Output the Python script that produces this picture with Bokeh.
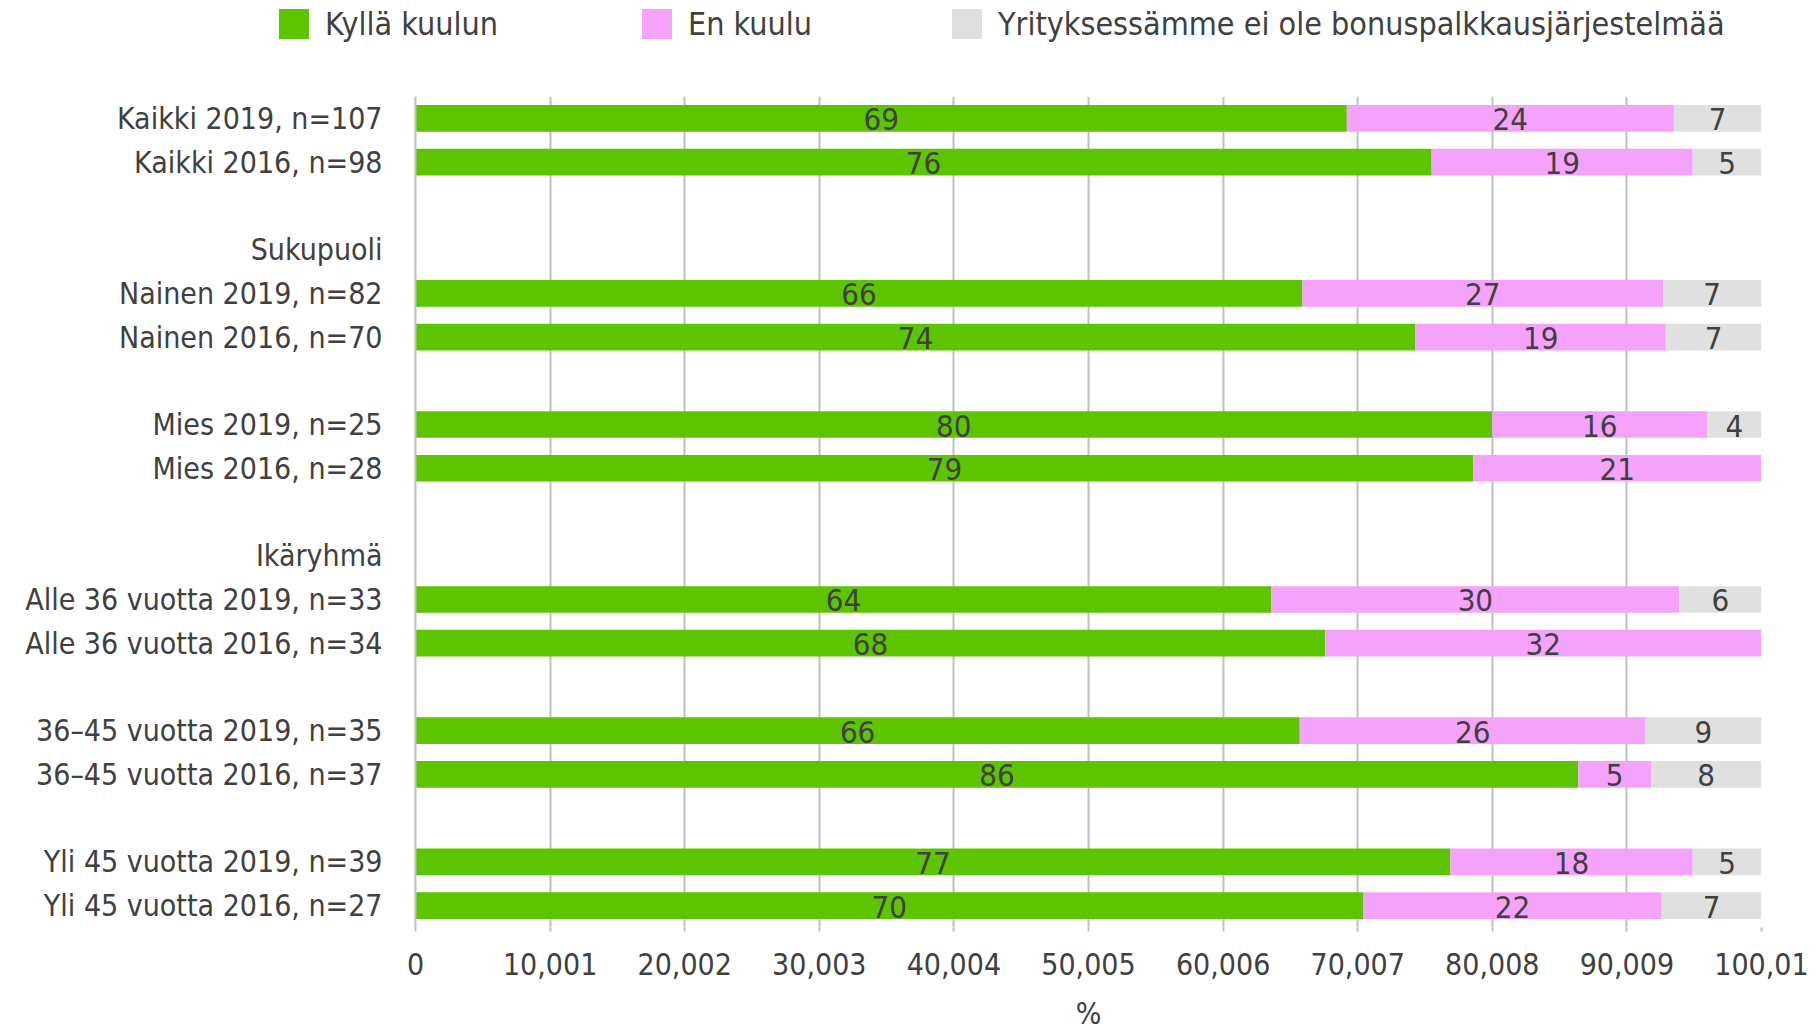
import math
from bokeh.plotting import figure
from bokeh.layouts import column
from bokeh.models import ColumnDataSource, FixedTicker, Range1d, Div
from bokeh.core.properties import value
from bokeh.embed import file_html
from bokeh.resources import INLINE

# ---- data ----
rows = [
    "Kaikki 2019, n=107", "Kaikki 2016, n=98", "",
    "Sukupuoli", "Nainen 2019, n=82", "Nainen 2016, n=70", "",
    "Mies 2019, n=25", "Mies 2016, n=28", "",
    "Ikäryhmä", "Alle 36 vuotta 2019, n=33", "Alle 36 vuotta 2016, n=34", "",
    "36–45 vuotta 2019, n=35", "36–45 vuotta 2016, n=37", "",
    "Yli 45 vuotta 2019, n=39", "Yli 45 vuotta 2016, n=27",
]
kylla = [69.2, 75.5, None, None, 65.9, 74.3, None, 80.0, 78.6, None, None,
         63.6, 67.6, None, 65.7, 86.4, None, 76.9, 70.4]
en_kuulu = [24.3, 19.4, None, None, 26.8, 18.6, None, 16.0, 21.4, None, None,
            30.3, 32.4, None, 25.7, 5.4, None, 18.0, 22.2]
ei_bonus = [6.5, 5.1, None, None, 7.3, 7.1, None, 4.0, 0.0, None, None,
            6.1, 0.0, None, 8.6, 8.2, None, 5.1, 7.4]
series_names = ["Kyllä kuulun", "En kuulu", "Yrityksessämme ei ole bonuspalkkausjärjestelmää"]
x_ticks = [0, 10.001, 20.002, 30.003, 40.004, 50.005, 60.006, 70.007, 80.008, 90.009, 100.01]
x_tick_labels = ["0", "10,001", "20,002", "30,003", "40,004", "50,005", "60,006",
                 "70,007", "80,008", "90,009", "100,01"]
x_title = "%"

COLORS = ["#5CC500", "#F5A3FA", "#E0E0E0"]
TEXT = "#404040"
FONT = "DejaVu Sans Condensed"
FS = "30px"

W = 1815
LEG_H = 95
H = 1033 - LEG_H
FRAME_L, FRAME_R, FRAME_T, FRAME_B = 415, 1761, 96, 927
LEG_X = [279, 642, 952]          # legend swatch positions (layout)

# ---- legend strip (HTML text) ----
parts = []
for name, col, lx in zip(series_names, COLORS, LEG_X):
    parts.append(
        f'<div style="position:absolute;left:{lx}px;top:9px;width:30px;height:30px;'
        f'background:{col};"></div>'
        f'<div style="position:absolute;left:{lx + 46}px;top:0px;height:48px;line-height:48px;'
        f'white-space:nowrap;">{name}</div>')
legend_div = Div(
    text=(f'<div style="position:relative;width:{W}px;height:{LEG_H}px;'
          f'font-family:\'{FONT}\';font-size:32px;color:{TEXT};">' + "".join(parts) + "</div>"),
    width=W, height=LEG_H, margin=0)

# ---- main chart ----
p = figure(width=W, height=H, x_range=Range1d(0, 100.01), y_range=Range1d(18.5, -0.5),
           output_backend="svg", toolbar_location=None,
           min_border_left=FRAME_L, min_border_right=W - FRAME_R,
           min_border_top=FRAME_T - LEG_H, min_border_bottom=H - (FRAME_B - LEG_H))
p.outline_line_color = None
p.background_fill_color = "white"
p.border_fill_color = "white"

idx = [i for i, v in enumerate(kylla) if v is not None]
series = [kylla, en_kuulu, ei_bonus]
lab_x, lab_y, lab_t = [], [], []
left = [0.0] * len(idx)
for s, col, name in zip(series, COLORS, series_names):
    vals = [s[i] for i in idx]
    right = [l + v for l, v in zip(left, vals)]
    src = ColumnDataSource(dict(y=idx, left=left, right=right))
    p.hbar(y="y", left="left", right="right", height=0.61, source=src,
           fill_color=col, line_color=None, name=name)
    for yy, l, rr, v in zip(idx, left, right, vals):
        if v > 0:
            lab_x.append((l + rr) / 2)
            lab_y.append(yy)
            lab_t.append(str(int(math.floor(v + 0.5))))
    left = right

p.text(x=lab_x, y=lab_y, text=lab_t, text_align="center", text_baseline="middle",
       text_color=TEXT, text_font=value(FONT), text_font_size="31px", y_offset=1)

# axes
p.xaxis.ticker = FixedTicker(ticks=x_ticks)
p.xaxis.major_label_overrides = {t: l for t, l in zip(x_ticks, x_tick_labels)}
p.xaxis.axis_line_color = None
p.xaxis.major_tick_line_color = "#BFBFBF"
p.xaxis.major_tick_line_width = 2
p.xaxis.major_tick_out = 4
p.xaxis.major_tick_in = 0
p.xaxis.minor_tick_line_color = None
p.xaxis.major_label_standoff = 21
p.xaxis.major_label_text_font = FONT
p.xaxis.major_label_text_font_size = FS
p.xaxis.major_label_text_color = TEXT
p.xaxis.axis_label = x_title
p.xaxis.axis_label_text_font = FONT
p.xaxis.axis_label_text_font_size = FS
p.xaxis.axis_label_text_font_style = "normal"
p.xaxis.axis_label_text_color = TEXT
p.xaxis.axis_label_standoff = 18

tick_rows = [i for i, r in enumerate(rows) if r]
p.yaxis.ticker = FixedTicker(ticks=tick_rows)
p.yaxis.major_label_overrides = {i: rows[i] for i in tick_rows}
p.yaxis.axis_line_color = "#BFBFBF"
p.yaxis.axis_line_width = 2
p.yaxis.major_tick_line_color = None
p.yaxis.minor_tick_line_color = None
p.yaxis.major_label_standoff = 27
p.yaxis.major_label_text_font = FONT
p.yaxis.major_label_text_font_size = FS
p.yaxis.major_label_text_color = TEXT

p.xgrid.grid_line_color = "#BFBFBF"
p.xgrid.grid_line_width = 2
p.ygrid.grid_line_color = None

layout = column(legend_div, p, spacing=0)
open("out.html", "w").write(file_html(layout, INLINE))
